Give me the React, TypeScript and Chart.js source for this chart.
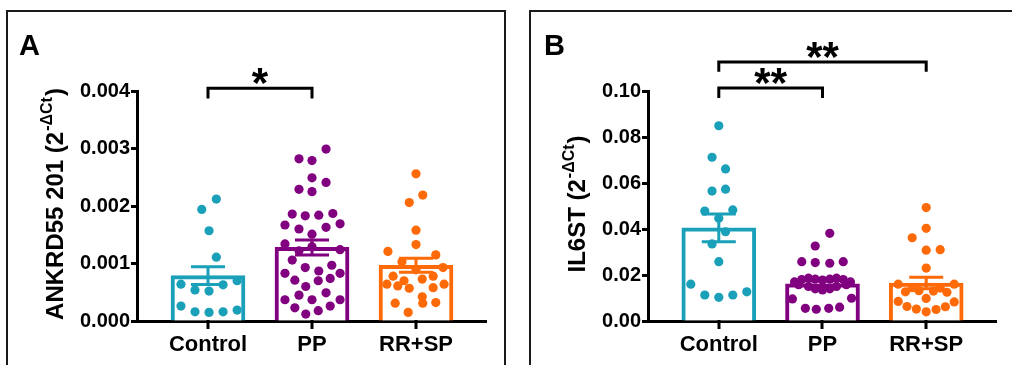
import React, { useEffect, useRef } from "react";
import { Chart, registerables } from "chart.js";

Chart.register(...registerables);

const FONT = '"Liberation Sans", Arial, Helvetica, sans-serif';

const categories = ["Control", "PP", "RR+SP"];
const groupColors = ["#1aa0b8", "#800080", "#ff6a08"];

const aMeans = [0.00079, 0.00128, 0.00097];
const aSems = [0.000155, 0.00013, 0.00012];
const aTicks = [0, 0.001, 0.002, 0.003, 0.004];

const aControlValues = [0.00212, 0.00194, 0.00157, 0.00111, 0.00064, 0.00054, 0.00052, 0.00063, 0.0007, 0.00026, 0.00016, 0.00015, 0.00016, 0.00019];
const aControlJitter = [0.08, -0.06, 0.01, 0.08, -0.26, -0.125, 0.01, 0.145, 0.28, -0.26, -0.125, 0.01, 0.145, 0.28];

const aPPValues = [0.00299, 0.00282, 0.00279, 0.00249, 0.00241, 0.00229, 0.00225, 0.00186, 0.00183, 0.00184, 0.00187, 0.00167, 0.0016, 0.00163, 0.00169, 0.00151, 0.00134, 0.00129, 0.00124, 0.00122, 0.00106, 0.00093, 0.00097, 0.00083, 0.00087, 0.00083, 0.00071, 0.0007, 0.00074, 0.0006, 0.00045, 0.00049, 0.00037, 0.00037, 0.00037, 0.00023, 0.00026, 0.00018, 0.00012];
const aPPJitter = [0.135, -0.125, 0, 0, 0.135, -0.125, 0, -0.19, -0.065, 0.065, 0.2, -0.26, -0.125, 0.135, 0.27, 0, -0.26, 0, 0.27, -0.125, -0.19, -0.065, 0.19, -0.26, 0.065, 0.27, -0.165, 0.06, 0.175, -0.06, -0.125, 0.135, -0.26, 0, 0.27, -0.165, 0.175, 0.06, -0.06];

const aRRValues = [0.00256, 0.00219, 0.00206, 0.00158, 0.00133, 0.00121, 0.00115, 0.00103, 0.00093, 0.00078, 0.0007, 0.00073, 0.00078, 0.00064, 0.00061, 0.00057, 0.00058, 0.00064, 0.00042, 0.00031, 0.00031, 0.00032, 0.00015, 0.00089];
const aRRJitter = [0, 0.065, -0.065, 0, 0, -0.27, 0.19, -0.135, 0.26, -0.22, -0.115, 0.06, 0.165, -0.28, -0.175, -0.065, 0.165, 0.27, 0.06, -0.2, 0.065, 0.19, -0.075, 0];

const bMeans = [0.0405, 0.0162, 0.0165];
const bSems = [0.006, 0.0013, 0.0025];
const bTicks = [0, 0.02, 0.04, 0.06, 0.08, 0.1];

const bControlValues = [0.0849, 0.0712, 0.0661, 0.0565, 0.0573, 0.0478, 0.0483, 0.0447, 0.0388, 0.0335, 0.0258, 0.016, 0.0113, 0.0103, 0.0113, 0.0127];
const bControlJitter = [0, -0.065, 0.065, -0.065, 0.065, -0.135, 0.135, 0, 0.065, -0.065, 0, -0.27, -0.135, 0, 0.135, 0.27];

const bPPValues = [0.0381, 0.0326, 0.0258, 0.0254, 0.0251, 0.0258, 0.017, 0.018, 0.0186, 0.0182, 0.0178, 0.0182, 0.0186, 0.018, 0.017, 0.0158, 0.015, 0.014, 0.0135, 0.014, 0.015, 0.0158, 0.0096, 0.0099, 0.0055, 0.0051, 0.0055, 0.006];
const bPPJitter = [0.07, -0.07, -0.2, -0.07, 0.07, 0.2, -0.27, -0.2, -0.135, -0.07, 0, 0.07, 0.135, 0.2, 0.27, -0.23, -0.135, -0.07, 0, 0.07, 0.135, 0.23, -0.29, 0.28, -0.165, -0.06, 0.06, 0.165];

const bRRValues = [0.0493, 0.0403, 0.0362, 0.0308, 0.031, 0.023, 0.016, 0.016, 0.0127, 0.0132, 0.013, 0.0125, 0.0145, 0.0143, 0.0098, 0.0085, 0.0063, 0.0052, 0.004, 0.005, 0.0062, 0.0083];
const bRRJitter = [0, 0, -0.135, 0, 0.135, 0, -0.27, 0.27, -0.2, -0.07, 0.07, 0.2, -0.135, 0.135, 0, -0.27, -0.185, -0.095, 0, 0.095, 0.185, 0.27];

const aBrackets = [{ from: 0, to: 1, y: 0.00405, leg: 0.00387, label: "*" }];
const bBrackets = [
  { from: 0, to: 1, y: 0.1013, leg: 0.097, label: "**" },
  { from: 0, to: 2, y: 0.1126, leg: 0.1084, label: "**" },
];

type Bracket = { from: number; to: number; y: number; leg: number; label: string };
type PanelCfg = {
  means: number[];
  sems: number[];
  values: number[][];
  jitter: number[][];
  ticks: number[];
  decimals: number;
  brackets: Bracket[];
  letter: string;
  titleMain: string;
  titleSup: string;
  canvasW: number;
  padLeft: number;
  padRight: number;
  titleX: number;
  letterX: number;
};

function makeOverlay(cfg: PanelCfg) {
  return {
    id: "overlay",
    afterDatasetsDraw(chart: any) {
      const ctx = chart.ctx as CanvasRenderingContext2D;
      const xs = chart.scales.x;
      const ys = chart.scales.y;
      ctx.save();
      ctx.lineWidth = 3;
      ctx.lineCap = "butt";
      cfg.means.forEach((m, i) => {
        const x = xs.getPixelForValue(i + 1);
        const yTop = ys.getPixelForValue(m + cfg.sems[i]);
        const yBot = ys.getPixelForValue(m - cfg.sems[i]);
        ctx.strokeStyle = groupColors[i];
        ctx.beginPath();
        ctx.moveTo(x, yTop);
        ctx.lineTo(x, yBot);
        ctx.moveTo(x - 17, yTop);
        ctx.lineTo(x + 17, yTop);
        ctx.moveTo(x - 17, yBot);
        ctx.lineTo(x + 17, yBot);
        ctx.stroke();
      });
      ctx.restore();
    },
    afterDraw(chart: any) {
      const ctx = chart.ctx as CanvasRenderingContext2D;
      const xs = chart.scales.x;
      const ys = chart.scales.y;
      const area = chart.chartArea;
      ctx.save();
      ctx.setLineDash([]);
      ctx.fillStyle = "#000";
      ctx.strokeStyle = "#000";
      cfg.brackets.forEach((b) => {
        const x1 = xs.getPixelForValue(b.from + 1);
        const x2 = xs.getPixelForValue(b.to + 1);
        const y = ys.getPixelForValue(b.y);
        const yl = ys.getPixelForValue(b.leg);
        ctx.lineWidth = 3;
        ctx.lineJoin = "miter";
        ctx.beginPath();
        ctx.moveTo(x1, yl);
        ctx.lineTo(x1, y);
        ctx.lineTo(x2, y);
        ctx.lineTo(x2, yl);
        ctx.stroke();
        ctx.font = `bold 42px ${FONT}`;
        ctx.textAlign = "center";
        ctx.textBaseline = "alphabetic";
        const m = ctx.measureText(b.label);
        const glyphBottomOffset = m.actualBoundingBoxDescent;
        ctx.fillText(b.label, (x1 + x2) / 2, y - 4 - glyphBottomOffset);
      });
      ctx.font = `bold 29px ${FONT}`;
      ctx.textAlign = "left";
      ctx.textBaseline = "alphabetic";
      ctx.fillText(cfg.letter, cfg.letterX, 55);
      const fMain = `bold 24px ${FONT}`;
      const fSup = `bold 16px ${FONT}`;
      ctx.font = fMain;
      const w1 = ctx.measureText(cfg.titleMain).width;
      const w3 = ctx.measureText(")").width;
      ctx.font = fSup;
      const w2 = ctx.measureText(cfg.titleSup).width + 2;
      const total = w1 + w2 + w3;
      const cy = (area.top + area.bottom) / 2 - 2;
      ctx.save();
      ctx.translate(cfg.titleX, cy);
      ctx.rotate(-Math.PI / 2);
      const start = -total / 2;
      ctx.font = fMain;
      ctx.fillText(cfg.titleMain, start, 0);
      ctx.font = fSup;
      ctx.fillText(cfg.titleSup, start + w1 + 1, -11);
      ctx.font = fMain;
      ctx.fillText(")", start + w1 + w2, 0);
      ctx.restore();
      // x-axis tick marks at the group positions
      const axisY = ys.getPixelForValue(0);
      ctx.fillStyle = "#000000";
      categories.forEach((_, i) => {
        const x = Math.round(xs.getPixelForValue(i + 1));
        ctx.fillRect(x - 1.5, axisY - 1, 3, 9);
      });
      ctx.restore();
    },
  };
}

const X_MIN = 1 - 71 / 104;
const X_MAX = 3 + 70 / 104;

function Panel({ cfg, left }: { cfg: PanelCfg; left: number }) {
  const ref = useRef<HTMLCanvasElement | null>(null);
  useEffect(() => {
    if (!ref.current) return;
    const scatterSets = cfg.values.map((vals, gi) => ({
      type: "scatter" as const,
      data: vals.map((v, k) => ({ x: gi + 1 + cfg.jitter[gi][k], y: v })),
      pointRadius: 4.6,
      pointBackgroundColor: groupColors[gi],
      pointBorderWidth: 0,
      showLine: false,
      order: 1,
    }));
    const barSet = {
      type: "bar" as const,
      data: cfg.means.map((m, i) => ({ x: i + 1, y: m })),
      backgroundColor: "#ffffff",
      borderColor: groupColors,
      borderWidth: 4,
      borderSkipped: "bottom",
      barThickness: 74,
      grouped: false,
      order: 2,
    };
    const chart = new Chart(ref.current, {
      type: "bar",
      data: { datasets: [barSet as any, ...scatterSets] },
      options: {
        responsive: false,
        animation: false,
        events: [],
        devicePixelRatio: 1,
        layout: {
          padding: { left: cfg.padLeft, right: cfg.padRight, top: 91, bottom: 12 },
        },
        plugins: { legend: { display: false }, tooltip: { enabled: false } },
        scales: {
          x: {
            type: "linear",
            min: X_MIN,
            max: X_MAX,
            offset: false,
            afterBuildTicks: (s: any) => {
              s.ticks = categories.map((_, i) => ({ value: i + 1 }));
            },
            afterFit: (s: any) => {
              s.height = 32;
            },
            ticks: {
              callback: (v: any) => categories[Math.round(Number(v)) - 1] ?? "",
              color: "#000",
              font: { family: FONT, size: 22, weight: "bold" },
              padding: 11,
              maxRotation: 0,
              autoSkip: false,
              showLabelBackdrop: false,
            },
            grid: {
              display: false,
              drawTicks: false,
            },
            border: { display: true, color: "#000", width: 3 },
          },
          y: {
            type: "linear",
            min: cfg.ticks[0],
            max: cfg.ticks[cfg.ticks.length - 1],
            afterBuildTicks: (s: any) => {
              s.ticks = cfg.ticks.map((v) => ({ value: v }));
            },
            afterFit: (s: any) => {
              s.width = 70;
            },
            ticks: {
              callback: (v: any) => Number(v).toFixed(cfg.decimals),
              color: "#000",
              font: { family: FONT, size: 20, weight: "bold" },
              padding: 1,
            },
            grid: {
              offset: false,
              drawOnChartArea: false,
              drawTicks: true,
              tickLength: 6,
              tickWidth: 3,
              tickColor: "#000",
            },
            border: { display: true, color: "#000", width: 3 },
          },
        },
      } as any,
      plugins: [makeOverlay(cfg)],
    });
    return () => chart.destroy();
  }, [cfg]);
  return (
    <canvas
      ref={ref}
      width={cfg.canvasW}
      height={365}
      style={{ position: "absolute", left, top: 0, width: cfg.canvasW, height: 365 }}
    />
  );
}

const panelA: PanelCfg = {
  means: aMeans,
  sems: aSems,
  values: [aControlValues, aPPValues, aRRValues],
  jitter: [aControlJitter, aPPJitter, aRRJitter],
  ticks: aTicks,
  decimals: 3,
  brackets: aBrackets,
  letter: "A",
  titleMain: "ANKRD55 201 (2",
  titleSup: "-ΔCt",
  canvasW: 505,
  padLeft: 67,
  padRight: 19,
  titleX: 63,
  letterX: 19,
};

const panelB: PanelCfg = {
  means: bMeans,
  sems: bSems,
  values: [bControlValues, bPPValues, bRRValues],
  jitter: [bControlJitter, bPPJitter, bRRJitter],
  ticks: bTicks,
  decimals: 2,
  brackets: bBrackets,
  letter: "B",
  titleMain: "IL6ST (2",
  titleSup: "-ΔCt",
  canvasW: 506,
  padLeft: 72,
  padRight: 16,
  titleX: 79,
  letterX: 38,
};

export default function App() {
  return (
    <div
      style={{
        position: "fixed",
        left: 0,
        top: 0,
        width: 1012,
        height: 365,
        overflow: "hidden",
        background: "#fff",
      }}
    >
      <div
        style={{
          position: "absolute",
          left: 6,
          top: 10,
          width: 496,
          height: 420,
          border: "2px solid #1a1a1a",
        }}
      />
      <div
        style={{
          position: "absolute",
          left: 529,
          top: 10,
          width: 560,
          height: 420,
          border: "2px solid #1a1a1a",
        }}
      />
      <Panel cfg={panelA} left={0} />
      <Panel cfg={panelB} left={506} />
    </div>
  );
}
